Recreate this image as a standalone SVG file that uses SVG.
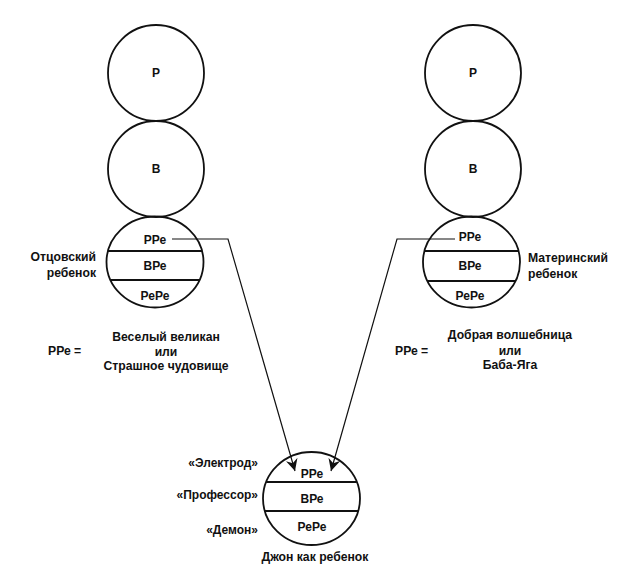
<svg xmlns="http://www.w3.org/2000/svg" width="623" height="582" viewBox="0 0 623 582">
<style>
.c{fill:none;stroke:#111;stroke-width:1.8}
.d{stroke:#111;stroke-width:1.8}
.cn{fill:none;stroke:#111;stroke-width:1.2}
text{font-family:"Liberation Sans",Arial,sans-serif;font-size:12px;font-weight:bold;fill:#111}
.m{text-anchor:middle}
.e{text-anchor:end}
.l{font-size:12.2px}
</style>
<defs>
<marker id="ah" markerWidth="14" markerHeight="12" refX="12" refY="6" orient="auto" markerUnits="userSpaceOnUse">
<path d="M0,0 L12,6 L0,12 L4,6 Z" fill="#111"/>
</marker>
</defs>
<rect width="623" height="582" fill="#fff"/>

<g id="father">
<circle class="c" cx="156" cy="73" r="48"/>
<text class="m" x="156" y="77">Р</text>
<circle class="c" cx="156" cy="169" r="48"/>
<text class="m" x="156" y="173">В</text>
<ellipse class="c" cx="155" cy="262" rx="48.5" ry="45.5"/>
<line class="d" x1="107.9" y1="251" x2="202.1" y2="251"/>
<line class="d" x1="110.5" y1="280" x2="199.5" y2="280"/>
<text class="m" x="155" y="243.5">РРе</text>
<text class="m" x="155" y="269.5">ВРе</text>
<text class="m" x="155" y="299.5">РеРе</text>
<text class="e l" x="96" y="261">Отцовский</text>
<text class="e l" x="96" y="277">ребенок</text>
<text class="l" x="48" y="355">РРе =</text>
<text class="m l" x="166" y="341">Веселый великан</text>
<text class="m l" x="166" y="356">или</text>
<text class="m l" x="166" y="370">Страшное чудовище</text>
</g>

<g id="mother">
<circle class="c" cx="473" cy="73" r="48"/>
<text class="m" x="473" y="77">Р</text>
<circle class="c" cx="473" cy="169" r="48"/>
<text class="m" x="473" y="173">В</text>
<ellipse class="c" cx="471.5" cy="262" rx="48.5" ry="45.5"/>
<line class="d" x1="424.4" y1="251" x2="518.6" y2="251"/>
<line class="d" x1="427.4" y1="281" x2="515.6" y2="281"/>
<text class="m" x="470" y="240.5">РРе</text>
<text class="m" x="470" y="269.5">ВРе</text>
<text class="m" x="470" y="299.5">РеРе</text>
<text class="l" x="528" y="262">Материнский</text>
<text class="l" x="528" y="278">ребенок</text>
<text class="l" x="395" y="355">РРе =</text>
<text class="m l" x="510" y="339">Добрая волшебница</text>
<text class="m l" x="510" y="355">или</text>
<text class="m l" x="510" y="369">Баба-Яга</text>
</g>

<g id="john">
<ellipse class="c" cx="311.5" cy="498.5" rx="48.5" ry="46.5"/>
<line class="d" x1="266.2" y1="482" x2="356.8" y2="482"/>
<line class="d" x1="264.8" y1="511" x2="358.2" y2="511"/>
<text class="m" x="312" y="477.5">РРе</text>
<text class="m" x="312" y="502.5">ВРе</text>
<text class="m" x="312" y="530.5">РеРе</text>
<text class="e" x="258" y="467">«Электрод»</text>
<text class="e" x="258" y="499">«Профессор»</text>
<text class="e" x="258" y="534">«Демон»</text>
<text class="m l" x="315" y="561">Джон как ребенок</text>
</g>

<g id="connectors">
<polyline class="cn" points="172,239 228,239 295,471" marker-end="url(#ah)"/>
<polyline class="cn" points="455,239 397,239 331,471" marker-end="url(#ah)"/>
</g>
</svg>
